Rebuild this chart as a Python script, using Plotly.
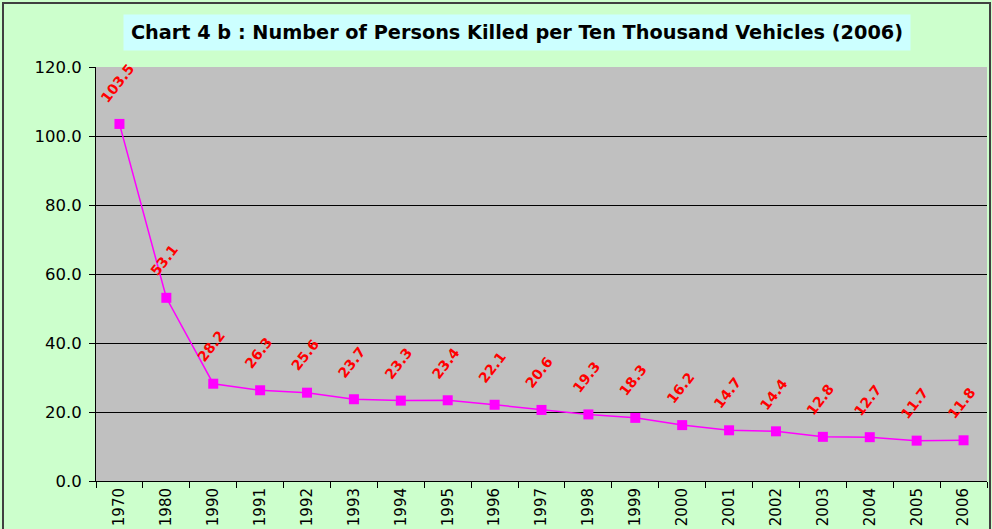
import plotly.graph_objects as go

years = ["1970", "1980", "1990", "1991", "1992", "1993", "1994", "1995", "1996", "1997",
         "1998", "1999", "2000", "2001", "2002", "2003", "2004", "2005", "2006"]
killed_per_10k = [103.5, 53.1, 28.2, 26.3, 25.6, 23.7, 23.3, 23.4, 22.1, 20.6,
                  19.3, 18.3, 16.2, 14.7, 14.4, 12.8, 12.7, 11.7, 11.8]
y_ticks = [0, 20, 40, 60, 80, 100, 120]
title_text = "Chart 4 b : Number of Persons Killed per Ten Thousand Vehicles (2006)"

fig = go.Figure()
fig.add_trace(go.Scatter(
    x=years, y=killed_per_10k, mode="lines+markers",
    line=dict(color="#FF00FF", width=1.5),
    marker=dict(symbol="square", size=10, color="#FF00FF"),
    showlegend=False, hoverinfo="x+y",
))

annotations = []
for i, v in enumerate(killed_per_10k):
    annotations.append(dict(
        x=i, y=v, xref="x", yref="y", text=f"{v:.1f}", showarrow=False,
        textangle=-52, xanchor="center", yanchor="bottom", yshift=16, xshift=-2,
        font=dict(family="DejaVu Sans", size=14, color="#FF0000", weight="bold"),
    ))

annotations.append(dict(
    x=0.4725, y=1.0833, xref="paper", yref="paper", text=title_text, showarrow=False,
    xanchor="center", yanchor="middle", width=786, height=35, borderpad=0,
    bgcolor="#CCFFFF",
    font=dict(family="DejaVu Sans", size=19.3, color="#000000", weight="bold"),
))

fig.update_layout(
    width=992, height=529,
    margin=dict(l=96, r=5, t=67, b=48, autoexpand=False),
    paper_bgcolor="#CCFFCC", plot_bgcolor="#C0C0C0",
    annotations=annotations,
    shapes=[dict(type="rect", xref="paper", yref="paper",
                 x0=(3 - 96) / 891, x1=(990 - 96) / 891,
                 y0=(481 - 560) / 414, y1=1 + (67 - 3) / 414,
                 line=dict(color="#404040", width=2), layer="below")],
    xaxis=dict(
        type="category", range=[-0.5, len(years) - 0.5],
        tickangle=-90, ticks="outside", tickson="boundaries",
        ticklen=6, tickcolor="#000000", showgrid=False, showline=True,
        linecolor="#000000", linewidth=1, automargin=False,
        tickfont=dict(family="DejaVu Sans", size=15, color="#000000"),
        fixedrange=True,
    ),
    yaxis=dict(
        range=[0, 120], tickvals=y_ticks, tickformat=".1f", ticks="outside",
        ticklen=6, tickcolor="#000000", showgrid=True, gridcolor="#000000",
        gridwidth=1, showline=True, linecolor="#000000", linewidth=1,
        zeroline=False, automargin=False, ticklabelstandoff=4,
        tickfont=dict(family="DejaVu Sans", size=16.5, color="#000000"),
        fixedrange=True,
    ),
)

fig.write_html("out.html", config={"displayModeBar": False},
               post_script="document.body.style.margin='0';document.body.style.overflow='hidden';")
